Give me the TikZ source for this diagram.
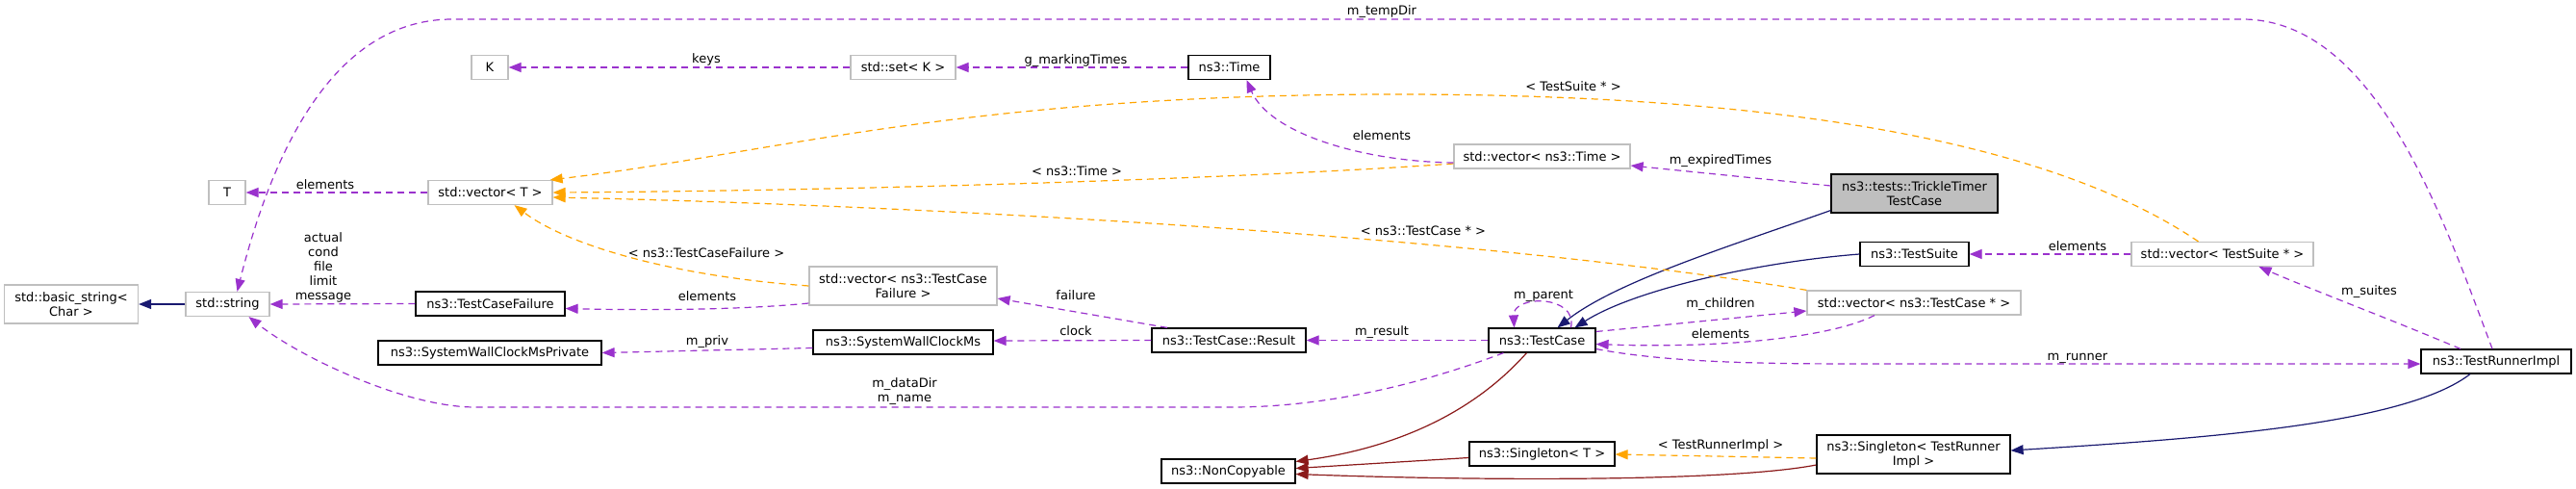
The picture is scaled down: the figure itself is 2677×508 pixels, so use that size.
\documentclass[tikz,border=0pt]{standalone}
\usepackage{fontspec}
\setmainfont{DejaVu Sans}
\usetikzlibrary{arrows.meta}

\definecolor{usecol}{HTML}{9A32CD}
\definecolor{tplcol}{HTML}{FFA500}
\definecolor{pubcol}{HTML}{191970}
\definecolor{privcol}{HTML}{8B1A1A}
\definecolor{extcol}{HTML}{BFBFBF}

\begin{document}
\begin{tikzpicture}[x=1pt, y=-1pt,
    cls/.style={draw=black, line width=1.2pt, fill=white, inner sep=0pt, minimum height=25pt, align=center, font=\fontsize{13}{15}\selectfont},
    ext/.style={cls, draw=extcol},
    tall/.style={minimum height=40pt},
    lbl/.style={inner sep=0pt, align=center, font=\fontsize{13}{15}\selectfont},
    tip/.style={-{Triangle[length=13pt, width=10pt]}},
    uses/.style={tip, draw=usecol, line width=1.2pt, dash pattern=on 7pt off 5pt},
    tpl/.style={tip, draw=tplcol, line width=1.2pt, dash pattern=on 7pt off 5pt},
    pub/.style={tip, draw=pubcol, line width=1.2pt},
    priv/.style={tip, draw=privcol, line width=1.2pt}]
    \useasboundingbox (0,0) rectangle (2677,508);
    \fill[white] (0,0) rectangle (2677,508);

    % Nodes
    \node (bstr) at (74,316) [ext, tall, minimum width=139pt] {std::basic\_string<\\Char >};
    \node (str) at (236.5,316) [ext, minimum width=87pt] {std::string};
    \node (tparam) at (236,200) [ext, minimum width=38pt] {T};
    \node (vecT) at (509.5,200) [ext, minimum width=129pt] {std::vector< T >};
    \node (kparam) at (509,70) [ext, minimum width=38pt] {K};
    \node (setK) at (938.5,70) [ext, minimum width=109pt] {std::set< K >};
    \node (time) at (1277.5,70) [cls, minimum width=85pt] {ns3::Time};
    \node (vecTime) at (1602.5,162.5) [ext, minimum width=183pt] {std::vector< ns3::Time >};
    \node (trickle) at (1989.5,201) [cls, tall, minimum width=173pt, fill=extcol] {ns3::tests::TrickleTimer\\TestCase};
    \node (suite) at (1989.5,264) [cls, minimum width=113pt] {ns3::TestSuite};
    \node (vecSuite) at (2309.5,264) [ext, minimum width=189pt] {std::vector< TestSuite * >};
    \node (vecCase) at (1989,314.5) [ext, minimum width=222pt] {std::vector< ns3::TestCase * >};
    \node (runner) at (2594,375.5) [cls, minimum width=156pt] {ns3::TestRunnerImpl};
    \node (sgtRunner) at (1988.5,472) [cls, tall, minimum width=201pt] {ns3::Singleton< TestRunner\\Impl >};
    \node (sgtT) at (1602.5,471.5) [cls, minimum width=151pt] {ns3::Singleton< T >};
    \node (noncopy) at (1276.5,489.5) [cls, minimum width=139pt] {ns3::NonCopyable};
    \node (tcase) at (1602.5,353.5) [cls, minimum width=111pt] {ns3::TestCase};
    \node (result) at (1277,353.5) [cls, minimum width=160pt] {ns3::TestCase::Result};
    \node (clock) at (938.5,355.5) [cls, minimum width=187pt] {ns3::SystemWallClockMs};
    \node (clockPriv) at (509,366.5) [cls, minimum width=232pt] {ns3::SystemWallClockMsPrivate};
    \node (tcf) at (509.5,315.5) [cls, minimum width=155pt] {ns3::TestCaseFailure};
    \node (vecTcf) at (938.5,297) [ext, tall, minimum width=195pt] {std::vector< ns3::TestCase\\Failure >};

    % Inheritance
    \draw [pub] (str.west) -- (bstr.east);
    \draw [pub] ([yshift=3pt]trickle.south west) .. controls (1800,255) and (1680,292) .. ([xshift=16pt]tcase.north);
    \draw [pub] (suite.west) .. controls (1830,272) and (1700,300) .. ([xshift=34pt]tcase.north);
    \draw [pub] ([xshift=-27pt]runner.south) .. controls (2500,440) and (2300,455) .. ([yshift=4pt]sgtRunner.east);
    \draw [priv] ([xshift=-16pt]tcase.south) .. controls (1530,430) and (1450,465) .. ([yshift=10pt]noncopy.east);
    \draw [priv] ([yshift=-4pt]sgtT.west) -- ([yshift=3pt]noncopy.east);
    \draw [priv] ([yshift=-11pt]sgtRunner.west) .. controls (1800,500) and (1550,500) .. ([yshift=-3pt]noncopy.east);

    % Template instances
    \draw [tpl] ([yshift=-4pt]sgtRunner.west) -- ([yshift=-0.5pt]sgtT.east);
    \draw [tpl] ([xshift=-25pt]vecSuite.north) .. controls (2150,160) and (1900,98) .. (1450,98)
        .. controls (1000,98) and (800,160) .. ([xshift=-3pt]vecT.north east);
    \draw [tpl] ([yshift=-7.5pt]vecTime.west) .. controls (1300,185) and (900,198) .. (vecT.east);
    \draw [tpl] (vecCase.north west) .. controls (1500,240) and (900,212) .. ([yshift=-5pt]vecT.east);
    \draw [tpl] (vecTcf.west) .. controls (700,287) and (590,255) .. ([xshift=25pt]vecT.south);

    % Members
    \draw [uses] (vecT.west) -- (tparam.east);
    \draw [uses] (setK.west) -- (kparam.east);
    \draw [uses] (time.west) -- (setK.east);
    \draw [uses] ([yshift=-6.5pt]vecTime.west) .. controls (1420,168) and (1320,140) .. ([xshift=18pt]time.south);
    \draw [uses] ([yshift=8pt]trickle.west) -- ([yshift=-9.5pt]vecTime.east);
    \draw [uses] (tcf.west) -- (str.east);
    \draw [uses] ([yshift=-18pt]vecTcf.west) .. controls (760,323) and (650,322) .. ([yshift=-5pt]tcf.east);
    \draw [uses] ([xshift=-64pt]result.north) -- ([yshift=-13pt]vecTcf.east);
    \draw [uses] (result.west) -- ([yshift=1.5pt]clock.east);
    \draw [uses] ([yshift=-6pt]clock.west) -- (clockPriv.east);
    \draw [uses] (tcase.west) -- (result.east);
    \draw [uses] ([xshift=30pt]tcase.north) .. controls (1640,306) and (1572,306) .. ([xshift=-29pt]tcase.north);
    \draw [uses] ([yshift=9pt]tcase.east) -- ([yshift=-8.5pt]vecCase.west);
    \draw [uses] ([xshift=-41pt]vecCase.south) .. controls (1900,352) and (1780,362) .. ([yshift=-4pt]tcase.east);
    \draw [uses] ([yshift=-9pt]tcase.east) .. controls (1740,378) and (1850,378) .. (1950,378) -- ([yshift=-2.5pt]runner.west);
    \draw [uses] ([xshift=-37pt]runner.north) .. controls (2480,330) and (2400,300) .. ([xshift=38pt]vecSuite.south);
    \draw [uses] (vecSuite.west) -- (suite.east);
    \draw [uses] ([xshift=-4pt]runner.north) .. controls (2540,230) and (2470,20) .. (2330,20) -- (470,20)
        .. controls (360,20) and (290,130) .. ([xshift=10pt]str.north);
    \draw [uses] ([xshift=-40pt]tcase.south) .. controls (1480,398) and (1380,423) .. (1280,423) -- (494,423)
        .. controls (420,423) and (310,370) .. ([xshift=22pt]str.south);

    % Labels
    \node (l-tempdir) at (1436,12) [lbl] {m\_tempDir};
    \node (l-keys) at (734,62) [lbl] {keys};
    \node (l-marking) at (1118,63) [lbl] {g\_markingTimes};
    \node (l-suiteptr) at (1635,90) [lbl] {< TestSuite * >};
    \node (l-timeelem) at (1436,141) [lbl] {elements};
    \node (l-time) at (1119,178) [lbl] {< ns3::Time >};
    \node (l-caseptr) at (1479,240) [lbl] {< ns3::TestCase * >};
    \node (l-telem) at (338,192) [lbl] {elements};
    \node (l-strings) at (336,277.5) [lbl] {actual\\cond\\file\\limit\\message};
    \node (l-failure) at (734,263) [lbl] {< ns3::TestCaseFailure >};
    \node (l-tcfelem) at (735,308) [lbl] {elements};
    \node (l-priv) at (735,355) [lbl] {m\_priv};
    \node (l-dirs) at (940,407) [lbl] {m\_dataDir\\m\_name};
    \node (l-fail) at (1118,307) [lbl] {failure};
    \node (l-clock) at (1118,344) [lbl] {clock};
    \node (l-result) at (1436,345) [lbl] {m\_result};
    \node (l-parent) at (1604,307) [lbl] {m\_parent};
    \node (l-expired) at (1788,167) [lbl] {m\_expiredTimes};
    \node (l-suiteelem) at (2159,256) [lbl] {elements};
    \node (l-children) at (1788,316) [lbl] {m\_children};
    \node (l-caseelem) at (1788,347) [lbl] {elements};
    \node (l-runner) at (2159,372) [lbl] {m\_runner};
    \node (l-suites) at (2462,303) [lbl] {m\_suites};
    \node (l-runnerimpl) at (1788,463) [lbl] {< TestRunnerImpl >};
\end{tikzpicture}
\end{document}
